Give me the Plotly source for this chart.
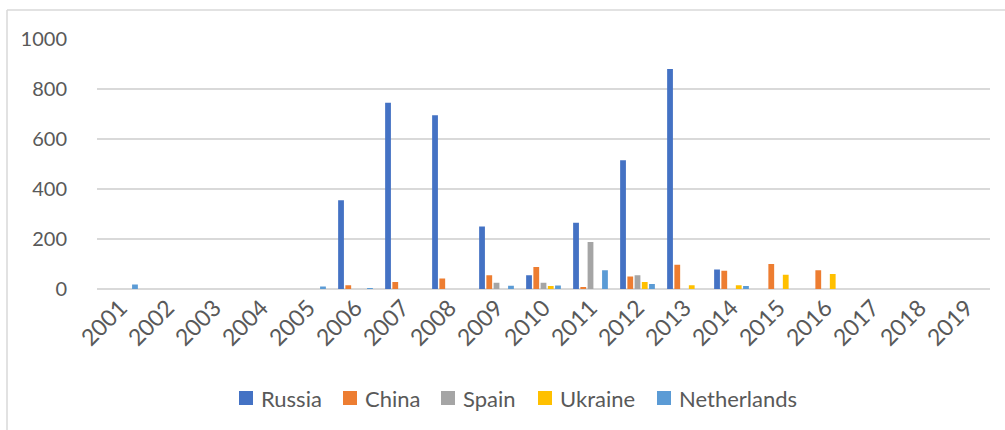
import plotly.graph_objects as go

years = [str(y) for y in range(2001, 2020)]

russia = [0, 0, 0, 0, 0, 355, 745, 695, 250, 55, 265, 515, 880, 78, 0, 0, 0, 0, 0]
china = [0, 0, 0, 0, 0, 15, 28, 42, 55, 88, 5, 50, 97, 73, 100, 75, 0, 0, 0]
spain = [0, 0, 0, 0, 0, 0, 0, 0, 25, 25, 188, 55, 0, 0, 0, 0, 0, 0, 0]
ukraine = [0, 0, 0, 0, 0, 0, 0, 0, 0, 12, 0, 28, 15, 15, 57, 60, 0, 0, 0]
netherlands = [18, 0, 0, 0, 10, 4, 0, 0, 13, 14, 75, 20, 0, 12, 0, 0, 0, 0, 0]

series = [
    ("Russia", russia, "#4472C4"),
    ("China", china, "#ED7D31"),
    ("Spain", spain, "#A5A5A5"),
    ("Ukraine", ukraine, "#FFC000"),
    ("Netherlands", netherlands, "#5B9BD5"),
]

fig = go.Figure()
for name, vals, color in series:
    fig.add_trace(go.Bar(x=years, y=vals, name=name, marker_color=color,
                         marker_line_width=0, showlegend=False))

text_color = "#595959"
grid_color = "#d9d9d9"

# plot area spans x 97..990 px, y 39..289 px
L, R, T, B = 97, 15, 39, 141
pw, ph = 1005 - L - R, 430 - T - B

def px_x(v):
    return (v - L) / pw

def px_y(v):
    return (430 - B - v) / ph

shapes = [
    dict(type="line", xref="paper", yref="paper",
         x0=px_x(7), x1=px_x(1005), y0=px_y(10), y1=px_y(10),
         line=dict(color=grid_color, width=1.5)),
    dict(type="line", xref="paper", yref="paper",
         x0=px_x(7), x1=px_x(7), y0=px_y(10), y1=px_y(430),
         line=dict(color=grid_color, width=1.5)),
]
annotations = []

# legend row below the axis: square swatch followed by the series name
legend_x = [239, 343, 441, 538, 657]
legend_y = 398
sw = 14
for (name, _, color), lx in zip(series, legend_x):
    shapes.append(dict(type="rect", xref="paper", yref="paper",
                       xsizemode="pixel", ysizemode="pixel",
                       xanchor=px_x(lx), yanchor=px_y(legend_y),
                       x0=0, x1=sw, y0=-sw / 2, y1=sw / 2,
                       fillcolor=color, line=dict(width=0)))
    annotations.append(dict(xref="paper", yref="paper", x=px_x(lx + sw + 6),
                            y=px_y(legend_y), xanchor="left", yanchor="middle",
                            text=name, showarrow=False,
                            font=dict(size=22, color=text_color)))

fig.update_layout(
    width=1005, height=430,
    margin=dict(l=L, r=R, t=T, b=B),
    paper_bgcolor="white", plot_bgcolor="white",
    barmode="group", bargap=0.23, bargroupgap=0.2,
    font=dict(family="Lato, Liberation Sans, sans-serif", size=20, color=text_color),
    showlegend=False,
    xaxis=dict(type="category", tickangle=-45, showgrid=False, showline=False,
               ticks="", tickfont=dict(size=23, color=text_color)),
    yaxis=dict(range=[0, 1000], tickvals=[0, 200, 400, 600, 800, 1000],
               showgrid=True, gridcolor=grid_color, gridwidth=1.5,
               zeroline=True, zerolinecolor=grid_color, zerolinewidth=2,
               showline=False, ticks="outside", ticklen=25, tickcolor="rgba(0,0,0,0)",
               tickfont=dict(size=20, color=text_color)),
    shapes=shapes,
    annotations=annotations,
)

fig.write_html("out.html")
